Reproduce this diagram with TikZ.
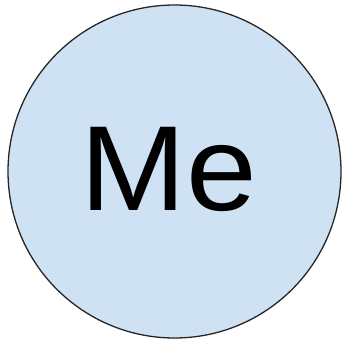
\documentclass[tikz,border=0pt]{standalone}
\usepackage{fontspec}
\setmainfont{Liberation Sans}
\usepackage{xcolor}
\usepackage{tikz}
\usetikzlibrary{positioning}

\definecolor{mefill}{HTML}{CFE2F3}

\tikzset{
  person/.style={circle, draw=black!85, line width=1.3pt, fill=mefill,
    inner sep=0pt, minimum size=333pt},
  personlabel/.style={font=\fontsize{121}{121}\selectfont, inner sep=0pt, xscale=1.05}
}

\begin{document}
\begin{tikzpicture}[x=1pt, y=1pt]
\useasboundingbox (0,0) rectangle (342,343);
% the circle
\node[person] (me) at (174.5,171.5) {};
% its text
\node[personlabel, anchor=base] (melabel) at (169.2,132.5) {Me};
\end{tikzpicture}
\end{document}
